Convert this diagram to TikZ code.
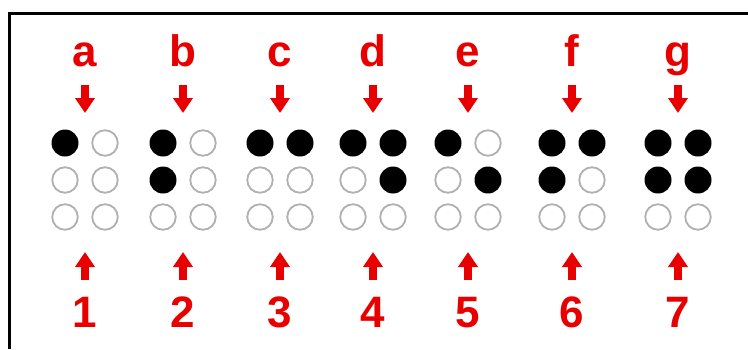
\documentclass[tikz,border=0pt]{standalone}
\usepackage{fontspec}
\setmainfont{Liberation Sans}
\usetikzlibrary{arrows.meta}
\definecolor{brred}{RGB}{232,0,0}

\begin{document}
\begin{tikzpicture}[x=1pt,y=-1pt,
    every node/.style={inner sep=0pt},
    label/.style={font=\bfseries\fontsize{44}{44}\selectfont, text=brred, anchor=base},
    ondot/.style={circle, fill=black, minimum size=27pt},
    offdot/.style={circle, draw=gray!62, line width=1.8pt, fill=white, minimum size=25.5pt},
    redarrow/.style={brred, line width=8pt, -{Triangle[width=19pt,length=15pt]}}]
    \useasboundingbox (0,0) rectangle (748,349);
    % frame: only left and top edges
    \draw[line width=3pt] (9,349) -- (9,13.5) -- (748,13.5);
    % cells: centre / letter / number / dots 1..6
    \foreach \cx/\ltr/\num/\pat in {
        85/a/1/{ondot,offdot,offdot,offdot,offdot,offdot},
        183/b/2/{ondot,ondot,offdot,offdot,offdot,offdot},
        280/c/3/{ondot,offdot,offdot,ondot,offdot,offdot},
        373/d/4/{ondot,offdot,offdot,ondot,ondot,offdot},
        468/e/5/{ondot,offdot,offdot,offdot,ondot,offdot},
        572/f/6/{ondot,ondot,offdot,ondot,offdot,offdot},
        678/g/7/{ondot,ondot,offdot,ondot,ondot,offdot}} {
        \node[label] (ltr-\ltr) at (\cx,66) {\ltr};
        \node[label] (num-\num) at (\cx,327) {\num};
        \foreach \s [count=\k] in \pat {
            \pgfmathsetmacro\dx{\k>3 ? 20 : -20}
            \pgfmathsetmacro\dy{143+37*mod(\k-1,3)}
            \node[\s] (dot-\ltr-\k) at (\cx+\dx,\dy) {};
        }
        \coordinate (top-\ltr) at (\cx,143);
        \coordinate (bot-\ltr) at (\cx,217);
        \draw[redarrow, shorten <=19pt, shorten >=30pt] (ltr-\ltr.base) -- (top-\ltr);
        \draw[redarrow, shorten <=47pt, shorten >=35pt] (num-\num.base) -- (bot-\ltr);
    }
\end{tikzpicture}
\end{document}
